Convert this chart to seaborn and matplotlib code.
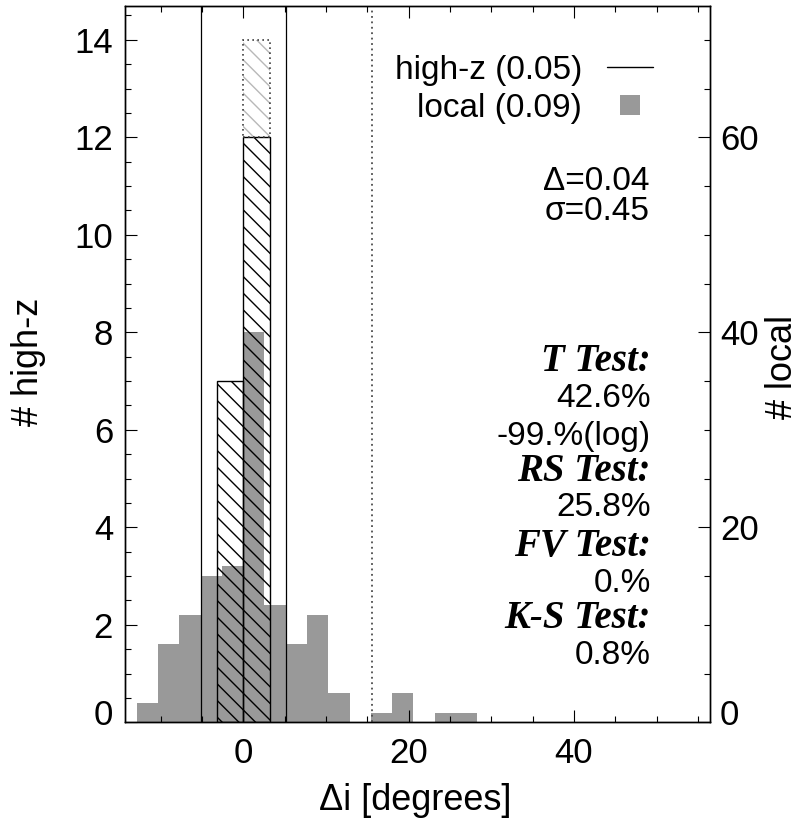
import matplotlib
matplotlib.use("Agg")
import matplotlib.pyplot as plt
import seaborn as sns
from matplotlib.lines import Line2D
from matplotlib.ticker import MultipleLocator
from matplotlib.transforms import ScaledTranslation

# ---------------- data ----------------
local_left_edges = [-12.87, -10.30, -7.72, -5.15, -2.57, 0.0, 2.57, 5.15,
                    7.72, 10.30, 12.87, 15.44, 18.02, 20.59, 23.16, 25.74]
local_bin_width = 2.574
local_counts = [2, 8, 11, 15, 16, 40, 12, 8, 11, 3, 0, 1, 3, 0, 1, 1]

highz_left_edges = [-3.22, 0.0]
highz_bin_width = 3.22
highz_counts = [7, 12]
highz_all_counts = [7, 14]

vline_solid = [-5.15, 5.15]
vline_dotted = [15.53]

legend_labels = ["high-z (0.05)", "local (0.09)"]
stat_lines = ["Δ=0.04", "σ=0.45"]
test_lines = [("T Test:", True), ("42.6%", False), ("-99.%(log)", False),
              ("RS Test:", True), ("25.8%", False), ("FV Test:", True),
              ("0.%", False), ("K-S Test:", True), ("0.8%", False)]

x_label = "Δi [degrees]"
y_label_left = "# high-z"
y_label_right = "# local"

# ---------------- style ----------------
sns.set_style("ticks")
plt.rcParams.update({
    "font.family": ["Liberation Sans", "DejaVu Sans"],
    "axes.linewidth": 1.0,
    "hatch.linewidth": 1.0,
    "text.color": "black",
    "axes.labelcolor": "black",
    "axes.edgecolor": "black",
    "xtick.color": "black",
    "ytick.color": "black",
})

W, H = 802, 823
fig = plt.figure(figsize=(W / 100, H / 100), dpi=100)
L, R, T, B = 125, 710, 5.7, 722.3
ax = fig.add_axes([L / W, 1 - B / H, (R - L) / W, (B - T) / H])
ax2 = ax.twinx()
ax.set_zorder(ax2.get_zorder() + 1)
ax.patch.set_visible(False)

# local histogram (gray, right axis)
local_edges = local_left_edges + [local_left_edges[-1] + local_bin_width]
local_centers = [e + local_bin_width / 2 for e in local_left_edges]
sns.histplot(x=local_centers, weights=local_counts, bins=local_edges, ax=ax2,
             color="#999999", alpha=1, linewidth=0, fill=True)

# high-z histogram (hatched, left axis)
hz_edges = highz_left_edges + [highz_left_edges[-1] + highz_bin_width]
hz_centers = [e + highz_bin_width / 2 for e in highz_left_edges]
sns.histplot(x=hz_centers, weights=highz_counts, bins=hz_edges, ax=ax,
             color="black", fill=False, linewidth=1.0, hatch="\\\\")

extra_x, extra_h, extra_b = [], [], []
for c, a, b in zip(hz_centers, highz_all_counts, highz_counts):
    if a - b > 0:
        extra_x.append(c); extra_h.append(a - b); extra_b.append(b)
ax.bar(extra_x, extra_h, bottom=extra_b, width=highz_bin_width, fill=False,
       edgecolor="0.72", hatch="\\\\", linewidth=0)
ax.bar(extra_x, extra_h, bottom=extra_b, width=highz_bin_width, fill=False,
       edgecolor="0.25", linestyle=(0, (1, 2)), linewidth=1.2)

for v in vline_solid:
    ax.axvline(v, color="black", lw=0.9)
for v in vline_dotted:
    ax.axvline(v, color="0.3", lw=1.3, linestyle=(0, (1, 2)))

# axes limits / ticks
ax.set_xlim(-14.3, 56.45)
ax.set_ylim(0, 14.7)
ax2.set_ylim(0, 73.5)
ax.xaxis.set_major_locator(MultipleLocator(20))
ax.xaxis.set_minor_locator(MultipleLocator(5))
ax.yaxis.set_major_locator(MultipleLocator(2))
ax.yaxis.set_minor_locator(MultipleLocator(0.5))
ax2.yaxis.set_major_locator(MultipleLocator(20))
ax2.yaxis.set_minor_locator(MultipleLocator(5))

ax.tick_params(which="both", direction="in", top=True, right=False, width=0.8)
ax.tick_params(which="major", length=8.6)
ax.tick_params(which="minor", length=4.3)
ax.tick_params(axis="y", pad=8.6, labelsize=25)
ax.tick_params(axis="x", pad=10.8, labelsize=25)
ax2.tick_params(which="both", direction="in", left=False, right=True, width=0.8,
                pad=7.2, labelsize=25)
ax2.tick_params(which="major", length=8.6)
ax2.tick_params(which="minor", length=4.3)

ax.set_xlabel(x_label, fontsize=26)
ax.set_ylabel(y_label_left, fontsize=26)
ax2.set_ylabel(y_label_right, fontsize=26)
ax.xaxis.set_label_coords((415 - L) / (R - L), (B - 800) / (B - T))
ax.xaxis.label.set(va="center", ha="center")
ax.yaxis.set_label_coords((28 - L) / (R - L), (B - 361.7) / (B - T))
ax.yaxis.label.set(va="center", ha="center", rotation_mode="anchor")
ax2.yaxis.set_label_coords((783 - L) / (R - L), (B - 366.7) / (B - T))
ax2.yaxis.label.set(va="center", ha="center", rotation_mode="anchor", rotation=90)

# legend
handles = [Line2D([], [], color="black", lw=1.0),
           Line2D([], [], color="#999999", marker="s", ls="", markersize=15,
                  markeredgewidth=0)]
leg = ax.legend(handles, legend_labels, loc="upper right",
                bbox_to_anchor=((653 - L) / (R - L), (B - 55) / (B - T)),
                frameon=False, markerfirst=False, fontsize=24, handlelength=1.38,
                handletextpad=0.75, labelspacing=0.2, borderpad=0, borderaxespad=0)

# stats text
def ax_xy(px, py):
    return (px - L) / (R - L), (B - py) / (B - T)

for s, py in zip(stat_lines, [181.7, 211.7]):
    ax.text(*ax_xy(650, py), s, transform=ax.transAxes, ha="right", va="center",
            fontsize=24)

test_y = [361.7, 398, 436.7, 471.7, 508, 546.7, 583, 618, 655]
for (s, is_head), py in zip(test_lines, test_y):
    if is_head:
        ax.text(*ax_xy(651, py), s, transform=ax.transAxes, ha="right", va="center",
                fontsize=28, family=["Liberation Serif", "DejaVu Serif"],
                weight="bold", style="italic")
    else:
        ax.text(*ax_xy(651, py), s, transform=ax.transAxes, ha="right", va="center",
                fontsize=24)

for sp in list(ax2.spines.values()) + list(ax.spines.values()):
    sp.set_linewidth(1.0)
    sp.set_color("black")

fig.canvas.draw()
off = ScaledTranslation(0, 10 / 100, fig.dpi_scale_trans)
for t in ax.yaxis.get_major_ticks():
    if abs(t.get_loc()) < 1e-9:
        t.label1.set_transform(t.label1.get_transform() + off)
for t in ax2.yaxis.get_major_ticks():
    if abs(t.get_loc()) < 1e-9:
        t.label2.set_transform(t.label2.get_transform() + off)

fig.savefig("out.png", dpi=100)
